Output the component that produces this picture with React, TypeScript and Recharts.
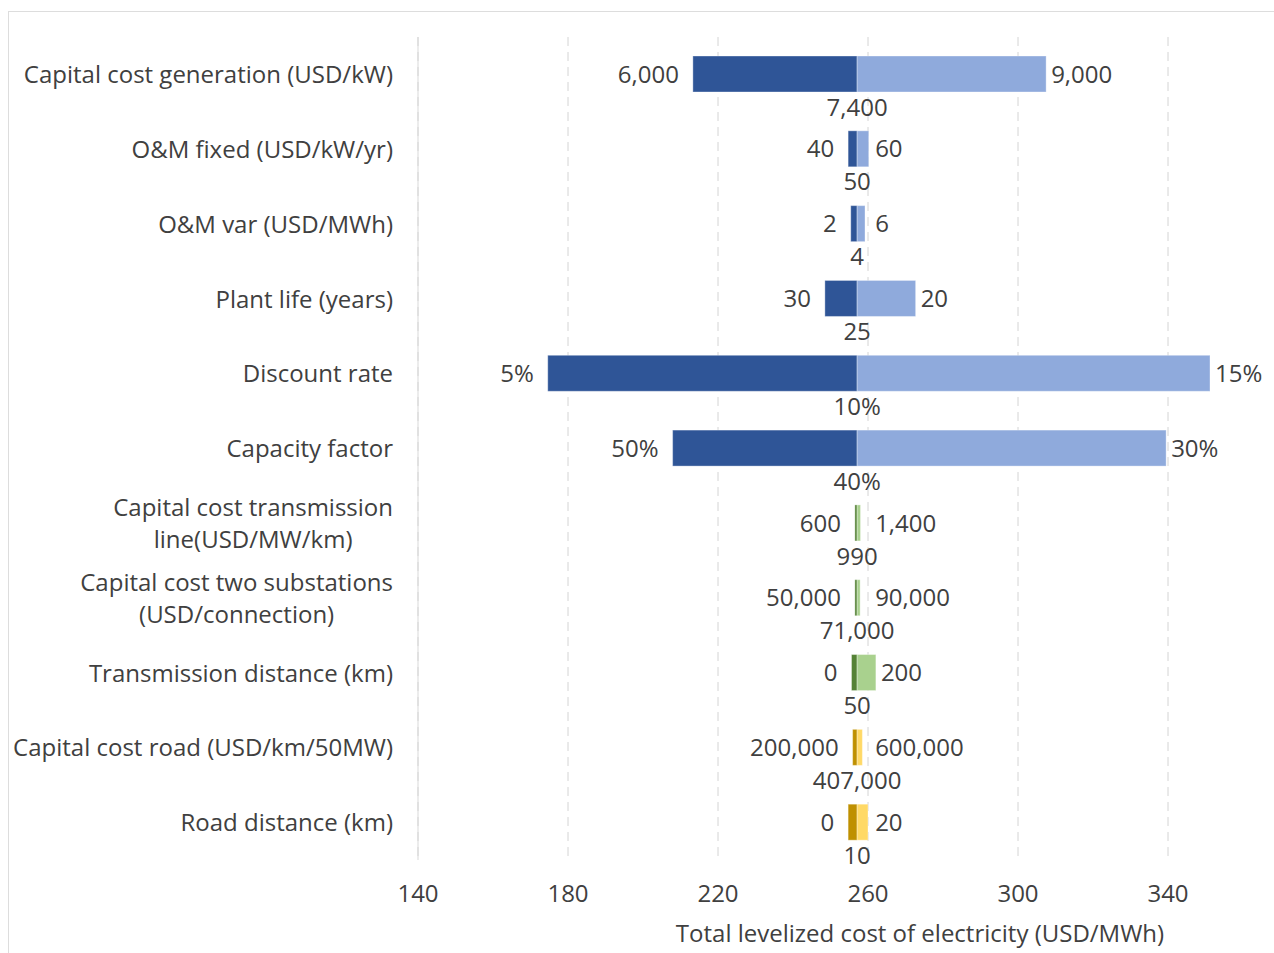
import React from 'react';
import { BarChart, Bar, XAxis, YAxis, CartesianGrid } from 'recharts';

const FONT = '"Open Sans", "Noto Sans", sans-serif';
const FS = 24;
const TEXT = '#404040';

const categories = [
  'Capital cost generation (USD/kW)',
  'O&M fixed (USD/kW/yr)',
  'O&M var (USD/MWh)',
  'Plant life (years)',
  'Discount rate',
  'Capacity factor',
  'Capital cost transmission\nline(USD/MW/km)',
  'Capital cost two substations\n(USD/connection)',
  'Transmission distance (km)',
  'Capital cost road (USD/km/50MW)',
  'Road distance (km)',
];

const baseValue = 257.1;
const lowValues = [213.3, 254.7, 255.4, 248.5, 174.6, 207.9, 256.5, 256.5, 255.6, 255.9, 254.7];
const highValues = [307.5, 260.2, 259.2, 272.7, 351.2, 339.5, 258.0, 257.9, 262.1, 258.5, 260.0];

const lowLabels = ['6,000', '40', '2', '30', '5%', '50%', '600', '50,000', '0', '200,000', '0'];
const highLabels = ['9,000', '60', '6', '20', '15%', '30%', '1,400', '90,000', '200', '600,000', '20'];
const baseLabels = ['7,400', '50', '4', '25', '10%', '40%', '990', '71,000', '50', '407,000', '10'];

const groups = ['blue', 'blue', 'blue', 'blue', 'blue', 'blue', 'green', 'green', 'green', 'gold', 'gold'];

const xTicks = [140, 180, 220, 260, 300, 340];

const darkColors: Record<string, string> = { blue: '#2F5597', green: '#548235', gold: '#BF9000' };
const lightColors: Record<string, string> = { blue: '#8FAADC', green: '#A9D18E', gold: '#FFD966' };

const data = categories.map((name, i) => ({
  name,
  lowRange: [lowValues[i], baseValue],
  highRange: [baseValue, highValues[i]],
  group: groups[i],
}));

let ctx: CanvasRenderingContext2D | null = null;
function measure(text: string): number {
  if (!ctx) {
    const c = document.createElement('canvas');
    ctx = c.getContext('2d');
  }
  if (!ctx) return text.length * FS * 0.55;
  ctx.font = `${FS}px "Open Sans"`;
  return ctx.measureText(text).width;
}

const textStyle = { fontFamily: FONT, fontSize: FS, fill: TEXT };

const CategoryTick = (props: any) => {
  const { x, y, payload } = props;
  const lines = String(payload.value).split('\n');
  if (lines.length === 1) {
    return (
      <text x={x} y={y} dy="0.36em" textAnchor="end" style={textStyle}>
        {lines[0]}
      </text>
    );
  }
  const w = Math.max(...lines.map((l) => measure(l)));
  const cx = x - w / 2;
  const n = lines.length;
  return (
    <text textAnchor="middle" style={textStyle}>
      {lines.map((l, k) => (
        <tspan key={k} x={cx} y={y + (k - (n - 1) / 2) * 32} dy="0.36em">
          {l}
        </tspan>
      ))}
    </text>
  );
};

const DarkShape = (props: any) => {
  const { x, y, width, height, index } = props;
  const g = groups[index];
  return (
    <g>
      <rect x={x} y={y} width={Math.max(width, 0)} height={height} fill={darkColors[g]} stroke="#ffffff" strokeOpacity={0.35} strokeWidth={1} />
      <text x={x - 14} y={y + height / 2} dy="0.36em" textAnchor="end" style={textStyle}>
        {lowLabels[index]}
      </text>
      <text x={x + width} y={y + height + 15} dy="0.36em" textAnchor="middle" style={textStyle}>
        {baseLabels[index]}
      </text>
    </g>
  );
};

const LightShape = (props: any) => {
  const { x, y, width, height, index } = props;
  const g = groups[index];
  const lx = Math.max(x + width + 5, x + 18);
  return (
    <g>
      <rect x={x} y={y} width={Math.max(width, 0)} height={height} fill={lightColors[g]} stroke="#ffffff" strokeOpacity={0.35} strokeWidth={1} />
      <text x={lx} y={y + height / 2} dy="0.36em" textAnchor="start" style={textStyle}>
        {highLabels[index]}
      </text>
    </g>
  );
};

const AxisTitle = () => (
  <text x={920} y={933} dy="0.36em" textAnchor="middle" style={textStyle}>
    Total levelized cost of electricity (USD/MWh)
  </text>
);

export default function App() {
  return (
    <div style={{ position: 'absolute', left: 0, top: 0, width: 1274, height: 953, overflow: 'hidden', background: '#ffffff' }}>
      <div style={{ position: 'absolute', left: 8, top: 11, width: 1400, height: 1100, border: '1px solid #DDDDDD' }} />
      <div style={{ position: 'absolute', left: 0, top: 0 }}>
        <BarChart
          width={1274}
          height={953}
          data={data}
          layout="vertical"
          margin={{ top: 37, right: 31, bottom: 0, left: 0 }}
          barSize={36}
        >
          <CartesianGrid
            horizontal={false}
            vertical
            verticalValues={xTicks}
            stroke="#D4D4D4"
            strokeDasharray="9 6"
          />
          <XAxis
            type="number"
            domain={[140, 360]}
            ticks={xTicks}
            axisLine={false}
            tickLine={false}
            tickSize={0}
            tickMargin={25}
            height={93}
            tick={{ fontFamily: FONT, fontSize: FS, fill: TEXT }}
            label={{ content: () => <AxisTitle /> }}
          />
          <YAxis
            type="category"
            dataKey="name"
            width={418}
            tickLine={false}
            tickSize={0}
            tickMargin={25}
            axisLine={{ stroke: '#D9D9D9' }}
            tick={<CategoryTick />}
            interval={0}
          />
          <YAxis yAxisId="b" type="category" dataKey="name" hide />
          <Bar dataKey="lowRange" isAnimationActive={false} shape={<DarkShape />} />
          <Bar dataKey="highRange" yAxisId="b" isAnimationActive={false} shape={<LightShape />} />
        </BarChart>
      </div>
    </div>
  );
}
